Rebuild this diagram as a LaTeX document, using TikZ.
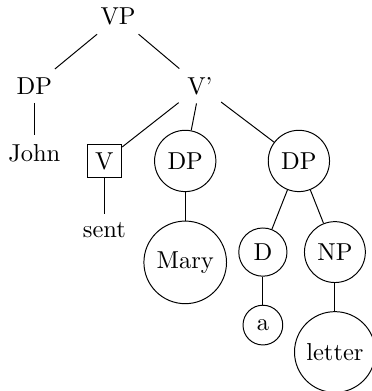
\documentclass[tikz,border=0pt]{standalone}
\begin{document}
\begin{tikzpicture}[
  word/.style={inner sep=3.33pt},
  boxed/.style={word, draw},
  ring/.style={word, draw, circle},
  x=1pt, y=-1pt
]
\useasboundingbox (0,0) rectangle (151.8,159.6);
\node[word] (vp)   at (48.2, 6.9)  {VP};
\node[word] (dpa)  at (14.0, 35.1) {DP};
\node[word] (vbar) at (81.6, 35.1) {V'};
\node[word] (john) at (14.0, 62.4) {John};
\node[boxed] (v)   at (42.6, 65.7) {V};
\node[ring] (dpb)  at (75.6, 65.7) {DP};
\node[ring] (dpc)  at (122.0, 65.7) {DP};
\node[word] (sent) at (42.6, 93.9) {sent};
\node[ring] (mary) at (75.6, 107.1) {Mary};
\node[ring] (d)    at (107.3, 102.9) {D};
\node[ring] (np)   at (136.7, 102.9) {NP};
\node[ring] (a)    at (107.3, 132.7) {a};
\node[ring] (letter) at (136.7, 143.7) {letter};

\draw (vp) -- (dpa);
\draw (vp) -- (vbar);
\draw (dpa) -- (john);
\draw (vbar) -- (v);
\draw (vbar) -- (dpb);
\draw (vbar) -- (dpc);
\draw (v) -- (sent);
\draw (dpb) -- (mary);
\draw (dpc) -- (d);
\draw (dpc) -- (np);
\draw (d) -- (a);
\draw (np) -- (letter);
\end{tikzpicture}
\end{document}
